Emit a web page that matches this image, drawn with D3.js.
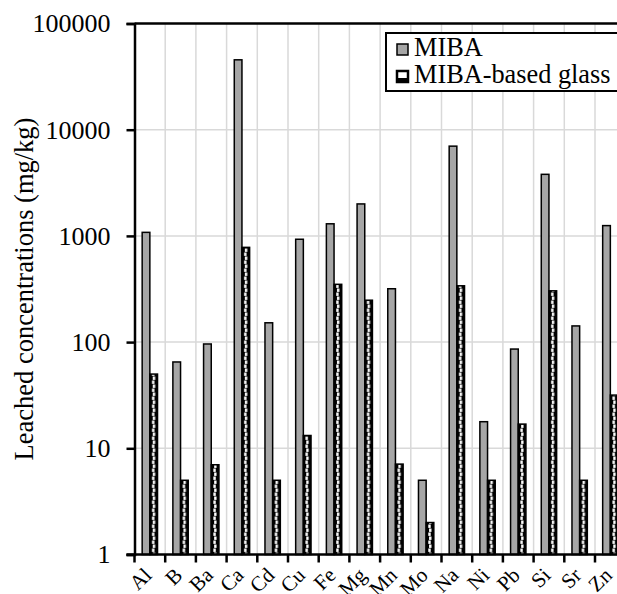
<!DOCTYPE html>
<html><head><meta charset="utf-8">
<script src="https://cdn.jsdelivr.net/npm/d3@7"></script>
<style>
html,body{margin:0;padding:0;background:#fff;overflow:hidden}
svg text{font-family:"Liberation Serif","Times New Roman",serif;fill:#000}
</style></head><body>
<svg id="chart" width="617" height="594"></svg>
<script>
const categories = ["Al","B","Ba","Ca","Cd","Cu","Fe","Mg","Mn","Mo","Na","Ni","Pb","Si","Sr","Zn"];
const seriesNames = ["MIBA","MIBA-based glass"];
const mibaValues  = [1080, 65, 96, 45500, 152, 930, 1300, 2000, 318, 5, 7000, 17.8, 86, 3800, 142, 1250];
const glassValues = [50, 5, 7, 780, 5, 13.2, 350, 248, 7.1, 2, 339, 5, 16.9, 304, 5, 31.7];
const yTickValues = [1, 10, 100, 1000, 10000, 100000];
const yTitle = "Leached concentrations (mg/kg)";

(function () {
const FONT = "'Liberation Serif', 'Times New Roman', serif";
const svg = d3.select("#chart");
const pLeft = 134.5, pTop = 23.5, pBottom = 554.5, step = 30.7;
const pRight = pLeft + step * categories.length;

const x = d3.scaleBand().domain(categories).range([pLeft, pRight]).padding(0);
const bw = x.bandwidth();
const x1 = d3.scaleBand().domain(seriesNames).range([bw * 0.25, bw * 0.75]).padding(0);
const y = d3.scaleLog().domain([1, 100000]).range([pBottom, pTop]);

// gridlines
const grid = svg.append("g");
grid.selectAll("line.h").data(yTickValues.slice(1, -1)).enter().append("line")
  .attr("x1", pLeft).attr("x2", 617).attr("y1", d => y(d)).attr("y2", d => y(d))
  .attr("stroke", "#d9d9d9").attr("stroke-width", 1.5);
grid.selectAll("line.v").data(categories.slice(1)).enter().append("line")
  .attr("x1", d => x(d)).attr("x2", d => x(d)).attr("y1", pTop).attr("y2", pBottom)
  .attr("stroke", "#d9d9d9").attr("stroke-width", 1.5);

// patterns
const defs = svg.append("defs");
function makePattern(id, px, w) {
  const p = defs.append("pattern").attr("id", id).attr("patternUnits", "userSpaceOnUse")
    .attr("x", px).attr("y", 0).attr("width", w).attr("height", 8);
  p.append("rect").attr("width", w).attr("height", 8).attr("fill", "#000");
  p.append("rect").attr("x", w * 0.38).attr("y", 0.5).attr("width", 2.4).attr("height", 3.4).attr("fill", "#fff");
  p.append("rect").attr("x", w * 0.28).attr("y", 4.5).attr("width", 2.4).attr("height", 3.4).attr("fill", "#fff");
}

// bars
const bars = svg.append("g");
categories.forEach((c, i) => {
  const gx = x(c);
  const bx0 = gx + x1(seriesNames[0]);
  bars.append("rect").attr("x", bx0).attr("y", y(mibaValues[i]))
    .attr("width", x1.bandwidth()).attr("height", y(1) - y(mibaValues[i]))
    .attr("fill", "#a6a6a6").attr("stroke", "#000").attr("stroke-width", 1.5);
  const bx1 = gx + x1(seriesNames[1]);
  makePattern("pat" + i, bx1, x1.bandwidth());
  bars.append("rect").attr("x", bx1).attr("y", y(glassValues[i]))
    .attr("width", x1.bandwidth()).attr("height", y(1) - y(glassValues[i]))
    .attr("fill", "url(#pat" + i + ")").attr("stroke", "#000").attr("stroke-width", 1.5);
});

// top border
svg.append("line").attr("x1", pLeft).attr("x2", 617).attr("y1", pTop).attr("y2", pTop)
  .attr("stroke", "#000").attr("stroke-width", 2.5);

// y axis
const yAxis = svg.append("g").attr("transform", `translate(${pLeft},0)`)
  .call(d3.axisLeft(y).tickValues(yTickValues).tickFormat(d3.format("d")).tickSize(8).tickPadding(16));
yAxis.attr("font-family", FONT);
yAxis.select(".domain").attr("stroke-width", 2.5);
yAxis.selectAll(".tick line").attr("stroke-width", 2.5);
yAxis.selectAll(".tick text").attr("font-size", 26).attr("font-family", FONT).attr("fill", "#000");

// x axis
svg.append("line").attr("x1", pLeft - 8).attr("x2", 617).attr("y1", pBottom).attr("y2", pBottom)
  .attr("stroke", "#000").attr("stroke-width", 2.5);
const xt = svg.append("g");
xt.selectAll("line").data(categories).enter().append("line")
  .attr("x1", d => x(d)).attr("x2", d => x(d)).attr("y1", pBottom).attr("y2", pBottom + 8)
  .attr("stroke", "#000").attr("stroke-width", 2.5);
xt.selectAll("text").data(categories).enter().append("text")
  .attr("transform", d => `translate(${x(d) + bw / 2 + 3},${pBottom + 22}) rotate(-45)`)
  .attr("text-anchor", "end").attr("font-size", 21).attr("font-family", FONT).text(d => d);

// y title
svg.append("text").attr("transform", `translate(33,${(pTop + pBottom) / 2}) rotate(-90)`)
  .attr("text-anchor", "middle").attr("font-size", 26.5).attr("font-family", FONT).text(yTitle);

// legend
const lg = svg.append("g");
lg.append("rect").attr("x", 386).attr("y", 33).attr("width", 240).attr("height", 58)
  .attr("fill", "#fff").attr("stroke", "#000").attr("stroke-width", 2);
seriesNames.forEach((s, i) => {
  const ly = 56 + i * 27;
  if (i === 0) {
    lg.append("rect").attr("x", 397).attr("y", ly - 12).attr("width", 11).attr("height", 11)
      .attr("fill", "#a6a6a6").attr("stroke", "#000").attr("stroke-width", 1.5);
  } else {
    lg.append("rect").attr("x", 397).attr("y", ly - 12).attr("width", 11).attr("height", 11)
      .attr("fill", "#fff").attr("stroke", "#000").attr("stroke-width", 2.5);
    lg.append("rect").attr("x", 397).attr("y", ly - 5).attr("width", 11).attr("height", 4).attr("fill", "#000");
  }
  lg.append("text").attr("x", 414).attr("y", ly).attr("font-size", 26.3).attr("font-family", FONT).text(s);
});
})();
</script></body></html>
